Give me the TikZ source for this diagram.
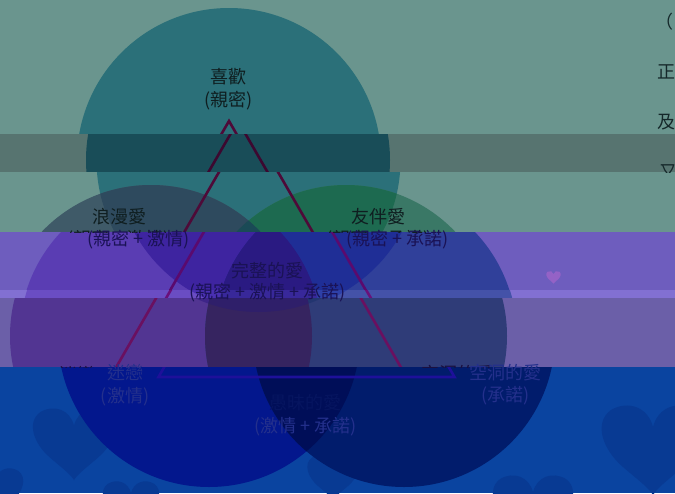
\documentclass[tikz,border=0pt]{standalone}
\usepackage{fontspec}
\newfontfamily\cjk{Noto Sans CJK TC}
\tikzset{
  lbl/.style={align=center, inner sep=0pt, font=\cjk\fontsize{18}{22.5}\selectfont},
  frag/.style={anchor=west, inner sep=0pt, text=cFR, font=\cjk\fontsize{18}{22}\selectfont},
  tri/.style={draw=cLN, line width=2.6pt, line join=miter},
}
\definecolor{cFR}{HTML}{15282A}
\definecolor{txA}{HTML}{0F1E20}
\definecolor{txB}{HTML}{1A1255}
\definecolor{txC}{HTML}{1A1040}
\definecolor{txD}{HTML}{24308C}
\definecolor{cFT}{HTML}{061560}
\newcommand\heartshape[4]{%
  \begin{scope}[shift={(#1,#2)}, scale=#3]
    \fill[#4] (0,0.22) .. controls (-0.05,0.02) and (-0.25,-0.05) .. (-0.42,0.05)
      .. controls (-0.6,0.18) and (-0.5,0.45) .. (-0.3,0.62)
      .. controls (-0.15,0.75) and (-0.05,0.82) .. (0,0.9)
      .. controls (0.05,0.82) and (0.15,0.75) .. (0.3,0.62)
      .. controls (0.5,0.45) and (0.6,0.18) .. (0.42,0.05)
      .. controls (0.25,-0.05) and (0.05,0.02) .. (0,0.22) -- cycle;
  \end{scope}}
\newcommand\setcols[9]{%
  \definecolor{cBG}{HTML}{#1}\definecolor{cT}{HTML}{#2}\definecolor{cL}{HTML}{#3}%
  \definecolor{cR}{HTML}{#4}\definecolor{cTL}{HTML}{#5}\definecolor{cTR}{HTML}{#6}%
  \definecolor{cLR}{HTML}{#7}\definecolor{cTLR}{HTML}{#8}\definecolor{cLN}{HTML}{#9}}
\newcommand\scene{%
  \coordinate (A) at (258.5,121);
  \coordinate (B) at (110.5,377);
  \coordinate (C) at (406.5,377);
  \fill[cT] (258.5,160) circle[radius=152pt];
  \fill[cL] (161,336) circle[radius=151pt];
  \fill[cR] (356,336) circle[radius=151pt];
  \begin{scope}
    \clip (258.5,160) circle[radius=152pt];
    \fill[cTL] (161,336) circle[radius=151pt];
    \fill[cTR] (356,336) circle[radius=151pt];
  \end{scope}
  \begin{scope}
    \clip (161,336) circle[radius=151pt];
    \fill[cLR] (356,336) circle[radius=151pt];
    \clip (258.5,160) circle[radius=152pt];
    \fill[cTLR] (356,336) circle[radius=151pt];
  \end{scope}
  \draw[tri] (A) -- (B) -- (C) -- cycle;
}
\newcommand\drawband[3]{%
  \begin{scope}
    \clip (0,#1) rectangle (675,#2);
    \fill[cBG] (-5,#1) rectangle (680,#2);
    \bandextra
    \begin{scope}[xshift=#3pt]
      \scene
    \end{scope}
  \end{scope}}
\def\bandextra{}
\begin{document}
\begin{tikzpicture}[x=1pt,y=-1pt]
\useasboundingbox (0,0) rectangle (675,493);
% band 1
\setcols{6A958E}{2B7079}{3F5A68}{3A7866}{2E4A5E}{1D6A50}{2A3F55}{1A4A56}{4E0A38}
\drawband{0}{134}{-29.5}
% band 2
\setcols{577470}{194D58}{2F4652}{2A5E52}{1F3A48}{10503F}{1E3040}{123A44}{3C0830}
\drawband{134}{172}{-20.5}
% band 3
\setcols{6A958E}{2B7079}{3F5A68}{3A7866}{2E4A5E}{1D6A50}{2A3F55}{1A4A56}{4E0A38}
\drawband{172}{232}{-10}
% band 4
\setcols{6E5DBE}{3A2A9A}{5A3DB3}{30409A}{3E24A0}{1F2E96}{2C1C84}{2A1A82}{5A0A6E}
\definecolor{cHsmall}{HTML}{9462C6}
\def\bandextra{\heartshape{553.5}{271}{14}{cHsmall}}
\drawband{232}{290}{9.5}
% band 5
\def\bandextra{}
\setcols{8270D2}{4A35A8}{6A4DC3}{4452A8}{4A30B2}{2E40A8}{3A2A96}{38289A}{6A107A}
\drawband{290}{298}{10}
% band 6
\setcols{6B5FA8}{3A2A80}{523592}{2F3C78}{3E2588}{233570}{362460}{2F1F6A}{6A1060}
\drawband{298}{367}{0}
% band 7
\setcols{0A44A0}{001080}{03178D}{011C6C}{03178D}{011C6C}{000E58}{000E58}{1E109A}
\definecolor{cH}{HTML}{083A93}
\def\bandextra{%
  \heartshape{653}{405}{100}{cH}%
  \heartshape{74}{408}{80}{cH}%
  \heartshape{-5}{468}{55}{cH}%
  \heartshape{131}{481}{55}{cH}%
  \heartshape{333}{455}{50}{cH}%
  \heartshape{533}{475}{78}{cH}}
\drawband{367}{493}{48}
% ghost fragments of labels at band edges
\begin{scope}
  \clip (0,222) rectangle (675,232);
  \node[lbl, text=txA] (ghostrom) at (118.5,240) {(親密 + 激情)};
  \node[lbl, text=txA] (ghostcomp) at (378,240) {(親密 + 承諾)};
\end{scope}
\begin{scope}
  \clip (0,355) rectangle (675,367);
  \node[lbl, text=txC] (ghostinf) at (77,375) {迷戀};
  \node[lbl, text=txC] (ghostemp) at (457.5,374) {空洞的愛};
\end{scope}
% labels
\node[lbl, text=txA] (liking) at (228.5,89) {喜歡\\(親密)};
\node[lbl, text=txA] (romantic) at (119,217) {浪漫愛};
\node[lbl, text=txB] (romanticsub) at (138.5,240) {(親密 + 激情)};
\node[lbl, text=txA] (companion) at (378,217) {友伴愛};
\node[lbl, text=txB] (companionsub) at (397.5,240) {(親密 + 承諾)};
\node[lbl, text=txB] (complete) at (267.5,271) {完整的愛};
\node[lbl, text=txB] (completesub) at (267.5,293) {(親密 + 激情 + 承諾)};
\node[lbl, text=txD] (infat) at (125,385) {迷戀\\(激情)};
\node[lbl, text=txD] (empty) at (505.5,384.5) {空洞的愛\\(承諾)};
\node[lbl, text=txD] (fatuous) at (305.5,415) {\textcolor{cFT}{愚昧的愛}\\(激情 + 承諾)};
% right-edge text fragments
\begin{scope}
  \clip (0,0) rectangle (675,172);
  \node[frag] (f1) at (655,22) {（};
  \node[frag] (f2) at (657,72) {正};
  \node[frag] (f3) at (657,122) {及};
  \node[frag] (f4) at (659,172) {又};
\end{scope}
\end{tikzpicture}
\end{document}
